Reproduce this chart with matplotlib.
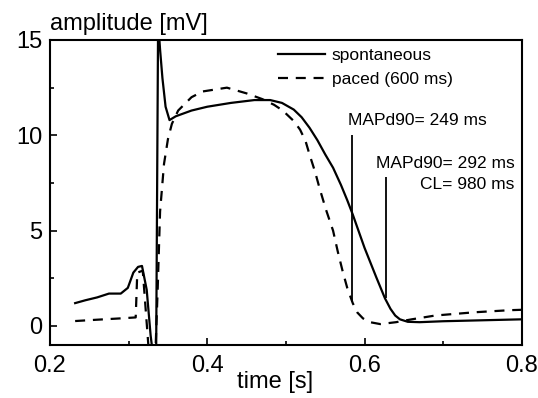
import matplotlib
matplotlib.use("Agg")
import matplotlib.pyplot as plt
from matplotlib.ticker import MultipleLocator, FuncFormatter

plt.rcParams['font.family'] = ['Liberation Sans', 'DejaVu Sans']

# spontaneous MAP (solid)
t_spont = [0.232, 0.245, 0.26, 0.275, 0.29, 0.299, 0.306, 0.312, 0.317, 0.323, 0.328, 0.331,
           0.335, 0.3375, 0.340, 0.343, 0.347, 0.352, 0.36, 0.38, 0.40, 0.43, 0.46, 0.48,
           0.495, 0.51, 0.52, 0.53, 0.54, 0.55, 0.56, 0.57, 0.578, 0.585, 0.60, 0.615,
           0.626, 0.633, 0.639, 0.645, 0.655, 0.67, 0.70, 0.75, 0.80]
v_spont = [1.2, 1.35, 1.5, 1.7, 1.7, 2.0, 2.8, 3.1, 3.15, 1.9, -0.5, -1.5,
           -1.5, 16.0, 14.5, 13.0, 11.5, 10.8, 11.0, 11.3, 11.5, 11.7, 11.85, 11.85,
           11.7, 11.35, 10.95, 10.4, 9.75, 9.0, 8.3, 7.4, 6.6, 5.85, 4.1, 2.55,
           1.45, 0.9, 0.55, 0.35, 0.22, 0.2, 0.25, 0.3, 0.35]

# paced 600 ms MAP (dashed)
t_paced = [0.232, 0.26, 0.29, 0.309, 0.311, 0.318, 0.326, 0.334, 0.337, 0.340, 0.345,
           0.350, 0.355, 0.363, 0.38, 0.394, 0.425, 0.45, 0.47, 0.485, 0.496, 0.51,
           0.518, 0.525, 0.530, 0.537, 0.543, 0.551, 0.56, 0.566, 0.572, 0.578, 0.585,
           0.591, 0.598, 0.607, 0.62, 0.64, 0.66, 0.69, 0.74, 0.785, 0.80]
v_paced = [0.26, 0.33, 0.4, 0.45, 2.8, 2.9, -1.5, -1.5, 2.0, 6.0, 8.5,
           9.8, 10.6, 11.3, 12.0, 12.3, 12.5, 12.2, 11.9, 11.6, 11.3, 10.75,
           10.3, 9.7, 9.0, 8.1, 7.2, 6.1, 5.0, 3.9, 2.9, 2.0, 1.2,
           0.7, 0.4, 0.2, 0.1, 0.2, 0.35, 0.55, 0.72, 0.83, 0.85]

# MAPd90 markers
marker_t = [0.584, 0.627]
marker_lo = [1.25, 1.45]
marker_hi = [10.0, 7.8]

fig = plt.figure(figsize=(5.38, 3.98), dpi=100)
ax = fig.add_axes([0.0929, 0.133, 0.877, 0.7665])

ax.plot(t_spont, v_spont, color='black', lw=1.6, label='spontaneous')
ax.plot(t_paced, v_paced, color='black', lw=1.6, ls=(0, (4.5, 3.5)), label='paced (600 ms)')
ax.vlines(marker_t, marker_lo, marker_hi, color='black', lw=1.3)

ax.text(0.7555, 10.8, 'MAPd90= 249 ms', ha='right', va='center', fontsize=12.5)
ax.text(0.791, 8.5, 'MAPd90= 292 ms', ha='right', va='center', fontsize=12.5)
ax.text(0.791, 7.4, 'CL= 980 ms', ha='right', va='center', fontsize=12.5)

ax.set_xlim(0.2, 0.8)
ax.set_ylim(-1, 15)
ax.xaxis.set_major_locator(MultipleLocator(0.2))
ax.xaxis.set_minor_locator(MultipleLocator(0.1))
ax.yaxis.set_major_locator(MultipleLocator(5))
ax.yaxis.set_minor_locator(MultipleLocator(2.5))
ax.tick_params(which='both', direction='in', top=False, right=False, labelsize=17, width=1.2)
ax.tick_params(which='major', length=5)
ax.tick_params(which='minor', length=3)
ax.tick_params(axis='x', pad=7.5)
ax.tick_params(axis='y', pad=5.5)
ax.xaxis.set_major_formatter(FuncFormatter(lambda v, p: f'{v:.1f}'))
ax.yaxis.set_major_formatter(FuncFormatter(lambda v, p: f'{v:.0f}'))
for s in ax.spines.values():
    s.set_linewidth(1.5)

ax.set_title('amplitude [mV]', loc='left', fontsize=17, pad=7)
ax.set_xlabel('time [s]', fontsize=17)
ax.xaxis.set_label_coords(0.477, -0.085)

ax.legend(loc='upper left', bbox_to_anchor=(0.483, 0.974), frameon=False, fontsize=12.5,
          handlelength=2.7, handletextpad=0.4, labelspacing=0.5, borderpad=0, borderaxespad=0)

fig.savefig('out.png', dpi=100)
